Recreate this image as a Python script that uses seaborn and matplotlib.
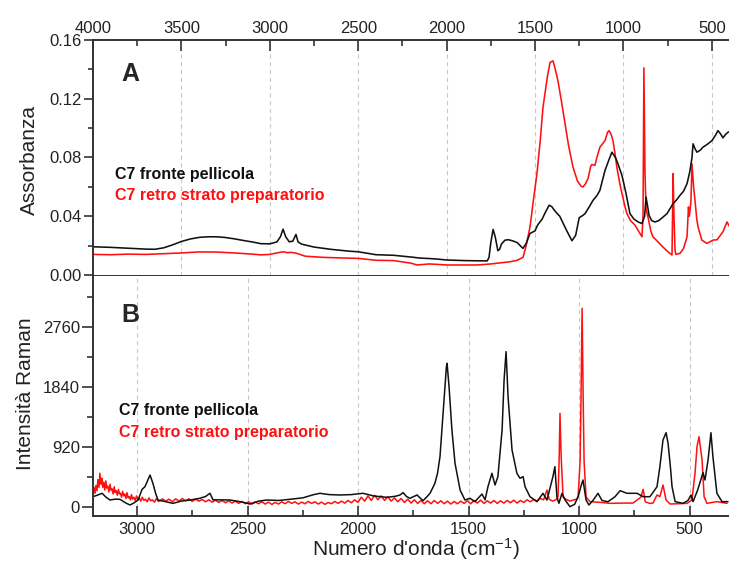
import numpy as np
import pandas as pd
import matplotlib
matplotlib.use("Agg")
import matplotlib.pyplot as plt
import seaborn as sns
from matplotlib.ticker import MultipleLocator, FixedLocator, FormatStrFormatter

# ---------------- data ----------------
# FTIR, black: C7 fronte pellicola
ftir_front_wn = [4000, 3900, 3800, 3700, 3650, 3600, 3550, 3500, 3450, 3400, 3350, 3300, 3250,
                 3200, 3150, 3100, 3050, 3000, 2960, 2940, 2925, 2910, 2890, 2870, 2852, 2840,
                 2820, 2750, 2650, 2550, 2500, 2400, 2300, 2250, 2200, 2150, 2100, 2050, 2000,
                 1950, 1900, 1850, 1800, 1770, 1760, 1750, 1737, 1725, 1710, 1700, 1690, 1670,
                 1650, 1625, 1600, 1580, 1568, 1550, 1528, 1500, 1485, 1460, 1440, 1420, 1405,
                 1390, 1376, 1360, 1342, 1320, 1291, 1270, 1250, 1230, 1217, 1195, 1172, 1150,
                 1133, 1104, 1080, 1065, 1045, 1031, 1008, 985, 963, 940, 915, 895, 880, 872,
                 862, 855, 840, 821, 800, 780, 753, 719, 700, 680, 660, 640, 625, 612, 606, 595,
                 584, 565, 550, 525, 499, 480, 465, 450, 437, 420, 408, 400]
ftir_front_abs = [0.0192, 0.0188, 0.0182, 0.0176, 0.0175, 0.0185, 0.0205, 0.0228, 0.0245, 0.0256,
                  0.0260, 0.0260, 0.0255, 0.0246, 0.0235, 0.0225, 0.0213, 0.0212, 0.0225, 0.0260,
                  0.0312, 0.0260, 0.0226, 0.0230, 0.0276, 0.0225, 0.0210, 0.0190, 0.0174, 0.0162,
                  0.0158, 0.0138, 0.0134, 0.0128, 0.0122, 0.0115, 0.0112, 0.0108, 0.0102, 0.0100,
                  0.0098, 0.0097, 0.0096, 0.0096, 0.0120, 0.0220, 0.0310, 0.0260, 0.0165, 0.0175,
                  0.0210, 0.0237, 0.0240, 0.0232, 0.0220, 0.0195, 0.0181, 0.0215, 0.0283, 0.0300,
                  0.0340, 0.0380, 0.0430, 0.0475, 0.0465, 0.0440, 0.0420, 0.0400, 0.0355, 0.0300,
                  0.0233, 0.0270, 0.0390, 0.0405, 0.0418, 0.0460, 0.0508, 0.0540, 0.0576, 0.0712,
                  0.0790, 0.0836, 0.0800, 0.0757, 0.0678, 0.0554, 0.0418, 0.0380, 0.0360, 0.0350,
                  0.0400, 0.0530, 0.0460, 0.0407, 0.0370, 0.0361, 0.0370, 0.0390, 0.0418, 0.0486,
                  0.0510, 0.0542, 0.0570, 0.0622, 0.0700, 0.0800, 0.0893, 0.0860, 0.0836, 0.0850,
                  0.0870, 0.0890, 0.0915, 0.0950, 0.0983, 0.0960, 0.0934, 0.0960, 0.0972, 0.0975]

# FTIR, red: C7 retro strato preparatorio
ftir_back_wn = [4000, 3900, 3800, 3700, 3600, 3500, 3400, 3300, 3200, 3100, 3050, 3000, 2960, 2925,
                2900, 2880, 2850, 2800, 2700, 2600, 2500, 2400, 2300, 2200, 2167, 2100, 2050, 2000,
                1900, 1828, 1750, 1700, 1641, 1600, 1568, 1550, 1528, 1510, 1489, 1470, 1455, 1430,
                1415, 1398, 1385, 1370, 1350, 1330, 1310, 1285, 1260, 1240, 1229, 1215, 1200, 1185,
                1178, 1161, 1150, 1133, 1104, 1090, 1082, 1070, 1059, 1048, 1037, 1020, 1008, 990,
                980, 960, 934, 910, 895, 889, 884, 878, 872, 861, 845, 833, 800, 776, 750, 725, 719,
                714, 708, 703, 680, 660, 640, 632, 627, 618, 612, 603, 595, 585, 578, 556, 528, 494,
                470, 437, 414, 400]
ftir_back_abs = [0.0140, 0.0138, 0.0142, 0.0140, 0.0145, 0.0150, 0.0157, 0.0156, 0.0150, 0.0142,
                 0.0137, 0.0140, 0.0150, 0.0158, 0.0152, 0.0154, 0.0148, 0.0128, 0.0120, 0.0116,
                 0.0113, 0.0100, 0.0098, 0.0080, 0.0068, 0.0075, 0.0072, 0.0068, 0.0068, 0.0068,
                 0.0075, 0.0082, 0.0090, 0.0100, 0.0120, 0.0200, 0.0328, 0.0500, 0.0690, 0.0920,
                 0.1140, 0.1350, 0.1447, 0.1458, 0.1400, 0.1320, 0.1180, 0.1030, 0.0880, 0.0734,
                 0.0640, 0.0605, 0.0599, 0.0620, 0.0656, 0.0740, 0.0753, 0.0746, 0.0800, 0.0870,
                 0.0915, 0.0970, 0.0983, 0.0960, 0.0915, 0.0830, 0.0734, 0.0620, 0.0554, 0.0460,
                 0.0418, 0.0370, 0.0339, 0.0290, 0.0260, 0.0400, 0.1410, 0.0700, 0.0450, 0.0395,
                 0.0300, 0.0260, 0.0220, 0.0190, 0.0160, 0.0136, 0.0690, 0.0400, 0.0170, 0.0140,
                 0.0147, 0.0180, 0.0260, 0.0463, 0.0400, 0.0500, 0.0757, 0.0600, 0.0508, 0.0380,
                 0.0328, 0.0237, 0.0215, 0.0237, 0.0240, 0.0294, 0.0361, 0.0330]

# Raman, black: C7 fronte pellicola
raman_front_wn = [3200, 3180, 3158, 3140, 3122, 3100, 3077, 3050, 3032, 3015, 2995, 2977, 2964,
                  2950, 2941, 2928, 2915, 2905, 2870, 2837, 2800, 2760, 2720, 2690, 2670, 2656,
                  2620, 2579, 2530, 2489, 2450, 2412, 2360, 2308, 2250, 2200, 2172, 2130, 2081,
                  2030, 1977, 1930, 1869, 1830, 1810, 1796, 1780, 1765, 1733, 1706, 1690, 1674,
                  1652, 1640, 1629, 1615, 1600, 1597, 1588, 1575, 1561, 1538, 1516, 1493, 1471,
                  1439, 1425, 1412, 1394, 1380, 1367, 1348, 1339, 1330, 1321, 1303, 1281, 1267,
                  1253, 1244, 1222, 1190, 1163, 1145, 1118, 1109, 1100, 1091, 1077, 1063, 1041,
                  1020, 1004, 990, 982, 968, 955, 937, 914, 896, 869, 837, 814, 783, 737, 710, 679,
                  647, 634, 620, 606, 597, 586, 579, 565, 529, 507, 493, 484, 463, 439, 430, 416,
                  403, 394, 376, 353, 326]
raman_front_int = [158, 180, 210, 150, 107, 120, 118, 60, 31, 60, 107, 271, 311, 420, 490, 363, 200,
                   107, 80, 56, 90, 107, 130, 160, 210, 110, 110, 107, 80, 46, 90, 107, 100, 118,
                   140, 190, 210, 190, 184, 190, 210, 170, 148, 165, 184, 220, 160, 133, 184, 97,
                   150, 210, 363, 520, 771, 1436, 2150, 2203, 1845, 1180, 670, 260, 107, 133, 82,
                   199, 110, 311, 517, 337, 465, 1180, 1947, 2381, 1691, 874, 517, 440, 465, 311,
                   158, 82, 210, 107, 465, 618, 158, 56, 210, 107, 5, 40, 158, 330, 414, 107, 31,
                   100, 210, 100, 80, 158, 250, 210, 210, 158, 158, 311, 618, 1027, 1139, 976, 600,
                   311, 82, 56, 100, 184, 82, 260, 526, 414, 720, 1139, 771, 210, 82, 82]

# Raman, red: C7 retro strato preparatorio (noisy high-wavenumber head + remainder)
raman_back_head_wn = [3200, 3195, 3190, 3186, 3181, 3177, 3172, 3168, 3163, 3159, 3155, 3150, 3146,
                      3141, 3137, 3132, 3127, 3122, 3118, 3113, 3108, 3103, 3099, 3094, 3089, 3084,
                      3079, 3075, 3070, 3065, 3060, 3055, 3050, 3045, 3040, 3035, 3030, 3025, 3020,
                      3014, 3008, 3002, 2996, 2990, 2983, 2976, 2969, 2962, 2954, 2946, 2938, 2930,
                      2921, 2912, 2903, 2894]
raman_back_head_int = [235, 300, 210, 330, 250, 420, 300, 517, 350, 440,
                       300, 380, 260, 400, 290, 320, 230, 350, 260, 280,
                       200, 310, 220, 250, 180, 270, 200, 210, 150, 240,
                       170, 200, 130, 220, 140, 160, 110, 190, 120, 150,
                       100, 170, 110, 140, 90, 150, 100, 120, 80, 140,
                       95, 110, 75, 130, 85, 100]
raman_back_tail_wn = [2885, 2870, 2855, 2840, 2825, 2810, 2795,
                      2780, 2765, 2750, 2735, 2720, 2705, 2690, 2675, 2660, 2645, 2630, 2615, 2600,
                      2585, 2570, 2555, 2540, 2525, 2510, 2495, 2480, 2465, 2450, 2435, 2420, 2405,
                      2390, 2375, 2360, 2345, 2330, 2315, 2300, 2285, 2270, 2255, 2240, 2225, 2210,
                      2195, 2180, 2165, 2150, 2135, 2120, 2105, 2090, 2075, 2060, 2045, 2030, 2015,
                      2000, 1985, 1970, 1955, 1940, 1925, 1910, 1895, 1880, 1865, 1850, 1835, 1820,
                      1805, 1790, 1775, 1760, 1745, 1730, 1715, 1700, 1685, 1670, 1655, 1640, 1625,
                      1610, 1595, 1580, 1565, 1550, 1535, 1520, 1505, 1490, 1475, 1460, 1445, 1430,
                      1415, 1400, 1385, 1370, 1355, 1340, 1325, 1310, 1295, 1280, 1265, 1250, 1235,
                      1220, 1205, 1190, 1175, 1160, 1145, 1135, 1120, 1105, 1095, 1090, 1086, 1081,
                      1072, 1055, 1040, 1027, 1010, 1004, 995, 991, 986, 981, 977, 968, 950, 900, 860,
                      800, 756, 720, 710, 700, 680, 665, 647, 634, 620, 606, 588, 550, 511, 489, 475,
                      466, 457, 443, 434, 421, 376, 330]
raman_back_tail_int = [125, 90, 120, 80, 125, 90, 130, 95, 125, 85, 120, 90, 115, 80, 110, 75,
                       105, 70, 100, 65, 95, 60, 90, 55, 85, 50, 80, 45, 75, 50, 80, 45, 75, 40,
                       70, 45, 80, 50, 85, 55, 80, 45, 75, 50, 85, 55, 80, 45, 75, 40, 70, 50, 85,
                       55, 90, 60, 100, 65, 110, 70, 150, 90, 170, 100, 180, 110, 170, 100, 160,
                       90, 140, 80, 130, 70, 120, 60, 110, 55, 100, 50, 95, 50, 100, 55, 95, 50,
                       90, 45, 85, 50, 90, 55, 95, 50, 100, 60, 105, 55, 95, 60, 100, 55, 95, 60,
                       100, 65, 105, 60, 100, 70, 110, 80, 115, 90, 130, 110, 260, 120, 90, 110,
                       158, 700, 1436, 800, 150, 110, 90, 107, 120, 158, 700, 1640, 3046, 1640,
                       700, 150, 82, 70, 56, 60, 60, 150, 271, 80, 55, 60, 184, 158, 337, 107, 46,
                       50, 56, 107, 517, 925, 1078, 720, 158, 56, 82, 56]
raman_back_wn = raman_back_head_wn + raman_back_tail_wn
raman_back_int = raman_back_head_int + raman_back_tail_int

label_front = "C7 fronte pellicola"
label_back = "C7 retro strato preparatorio"
ftir_xticks = [4000, 3500, 3000, 2500, 2000, 1500, 1000, 500]
ftir_yticks = [0.00, 0.04, 0.08, 0.12, 0.16]
raman_xticks = [3000, 2500, 2000, 1500, 1000, 500]
raman_yticks = [0, 920, 1840, 2760]

# ---------------- styling ----------------
sns.set_theme(style="white")
plt.rcParams["font.family"] = ["Liberation Sans", "DejaVu Sans"]
plt.rcParams["mathtext.fontset"] = "custom"
plt.rcParams["mathtext.rm"] = "Liberation Sans"
plt.rcParams["mathtext.it"] = "Liberation Sans:italic"
plt.rcParams["mathtext.bf"] = "Liberation Sans:bold"

RED = "#ff1010"
BLACK = "#111111"
SPINE = "#333333"
GRID = "#c8c8c8"

W, H = 729, 563
fig = plt.figure(figsize=(W / 100, H / 100), dpi=100)
left_px, right_px = 93, 729
axA = fig.add_axes([left_px / W, 1 - 276 / H, (right_px - left_px) / W, (276 - 40) / H])
axB = fig.add_axes([left_px / W, 1 - 516 / H, (right_px - left_px) / W, (516 - 276) / H])

dfA = pd.concat([
    pd.DataFrame({"wn": ftir_front_wn, "val": ftir_front_abs, "s": label_front}),
    pd.DataFrame({"wn": ftir_back_wn, "val": ftir_back_abs, "s": label_back}),
])
dfB = pd.concat([
    pd.DataFrame({"wn": raman_front_wn, "val": raman_front_int, "s": label_front}),
    pd.DataFrame({"wn": raman_back_wn, "val": raman_back_int, "s": label_back}),
])
pal = {label_front: BLACK, label_back: RED}

sns.lineplot(data=dfA, x="wn", y="val", hue="s", palette=pal, estimator=None, sort=False,
             linewidth=1.15, legend=False, ax=axA, hue_order=[label_back, label_front])
sns.lineplot(data=dfB, x="wn", y="val", hue="s", palette=pal, estimator=None, sort=False,
             linewidth=1.1, legend=False, ax=axB, hue_order=[label_back, label_front])

# panel A axes
axA.set_xlim(4000, 4000 - (right_px - left_px) * 500 / 88.4)
axA.set_ylim(-0.0007, 0.16)
axA.xaxis.tick_top()
axA.xaxis.set_major_locator(FixedLocator(ftir_xticks))
axA.xaxis.set_minor_locator(MultipleLocator(250))
axA.yaxis.set_major_locator(FixedLocator(ftir_yticks))
axA.yaxis.set_minor_locator(MultipleLocator(0.02))
axA.yaxis.set_major_formatter(FormatStrFormatter("%.2f"))
axA.tick_params(axis="x", which="major", direction="in", length=8, width=1.2, color=SPINE,
                labelsize=12, pad=3, top=True, bottom=False, labelcolor="#222222")
axA.tick_params(axis="x", which="minor", direction="in", length=4.5, width=1.2, color=SPINE,
                top=True, bottom=False)
axA.tick_params(axis="y", which="major", direction="out", length=6.5, width=1.2, color=SPINE,
                labelsize=12, pad=1.5, left=True, labelcolor="#222222")
axA.tick_params(axis="y", which="minor", direction="out", length=3.5, width=1.2, color=SPINE,
                left=True)
for x in ftir_xticks[1:]:
    axA.axvline(x, color=GRID, linestyle=(0, (4, 3)), linewidth=0.8, zorder=0)

# panel B axes
axB.set_xlim(3000 + (137 - left_px) * 500 / 110.5, 3000 - (right_px - 137) * 500 / 110.5)
axB.set_ylim(-138, 3541)
axB.xaxis.set_major_locator(FixedLocator(raman_xticks))
axB.xaxis.set_minor_locator(MultipleLocator(250))
axB.yaxis.set_major_locator(FixedLocator(raman_yticks))
axB.yaxis.set_minor_locator(MultipleLocator(460))
axB.tick_params(axis="x", which="major", direction="in", length=7, width=1.2, color=SPINE,
                labelsize=12, pad=4, bottom=True, labelcolor="#222222")
axB.tick_params(axis="x", which="minor", direction="in", length=4, width=1.2, color=SPINE,
                bottom=True)
axB.tick_params(axis="y", which="major", direction="out", length=8, width=1.2, color=SPINE,
                labelsize=12, pad=1.5, left=True, labelcolor="#222222")
axB.tick_params(axis="y", which="minor", direction="out", length=4, width=1.2, color=SPINE,
                left=True)
for x in raman_xticks:
    axB.axvline(x, color=GRID, linestyle=(0, (4, 3)), linewidth=0.8, zorder=0)

for ax in (axA, axB):
    ax.set_xlabel("")
    ax.set_ylabel("")
    ax.spines["right"].set_visible(False)
    for s in ("left", "bottom", "top"):
        ax.spines[s].set_color(SPINE)
        ax.spines[s].set_linewidth(1.4)
axB.spines["top"].set_visible(False)

# texts
fig.text(130 / W, 1 - 74 / H, "A", fontsize=18, fontweight="bold", ha="center", va="center")
fig.text(130 / W, 1 - 314.5 / H, "B", fontsize=18, fontweight="bold", ha="center", va="center")
fig.text(115 / W, 1 - 175 / H, label_front, fontsize=11.5, fontweight="bold", color=BLACK,
         ha="left", va="center")
fig.text(115 / W, 1 - 196 / H, label_back, fontsize=11.5, fontweight="bold", color=RED,
         ha="left", va="center")
fig.text(119 / W, 1 - 410.5 / H, label_front, fontsize=11.5, fontweight="bold", color=BLACK,
         ha="left", va="center")
fig.text(119 / W, 1 - 432.5 / H, label_back, fontsize=11.5, fontweight="bold", color=RED,
         ha="left", va="center")
fig.text(29 / W, 1 - 160 / H, "Assorbanza", fontsize=15, rotation=90, ha="center", va="center",
         color="#222222")
fig.text(26 / W, 1 - 394 / H, "Intensità Raman", fontsize=15, rotation=90, ha="center",
         va="center", color="#222222")
fig.text(416 / W, 1 - 549 / H, r"Numero d'onda (cm$^{-1}$)", fontsize=15, ha="center",
         va="center", color="#222222")

fig.savefig("out.png", dpi=100)
